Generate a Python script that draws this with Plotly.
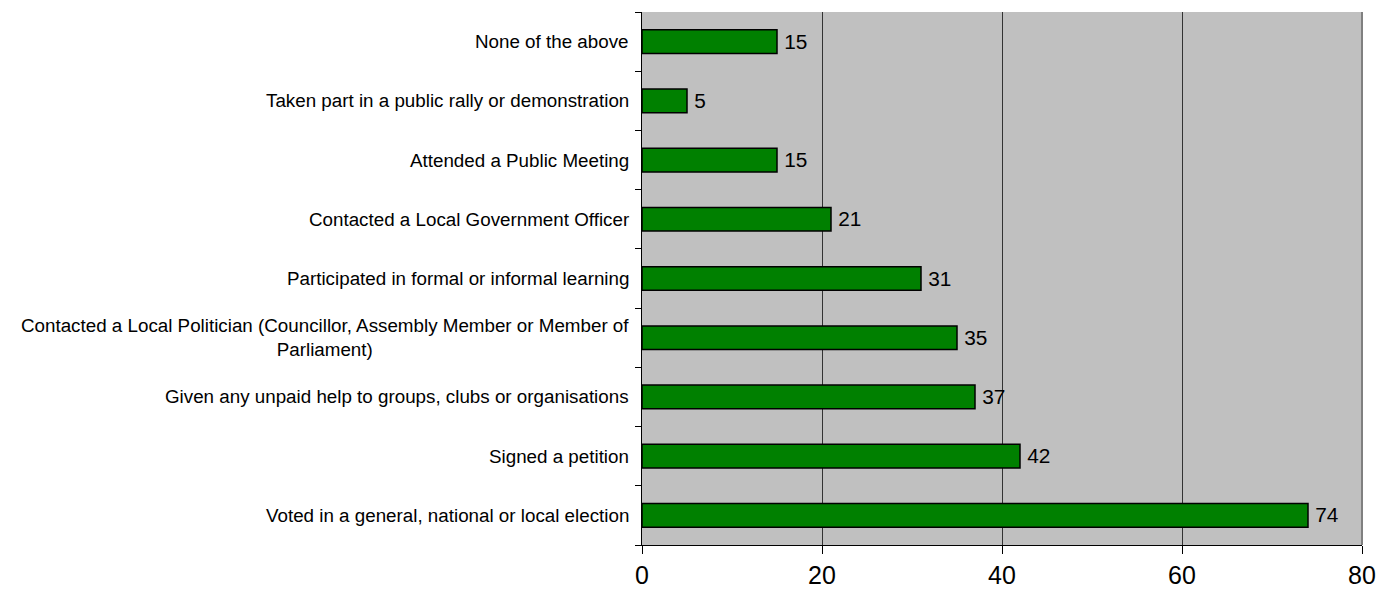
import plotly.graph_objects as go

categories = [
    "Voted in a general, national or local election",
    "Signed a petition",
    "Given any unpaid help to groups, clubs or organisations",
    "Contacted a Local Politician (Councillor, Assembly Member or Member of<br>Parliament)",
    "Participated in formal or informal learning",
    "Contacted a Local Government Officer",
    "Attended a Public Meeting",
    "Taken part in a public rally or demonstration",
    "None of the above",
]
values = [74, 42, 37, 35, 31, 21, 15, 5, 15]
x_ticks = [0, 20, 40, 60, 80]

FONT = "Liberation Sans, Arial, sans-serif"

fig = go.Figure(
    go.Bar(
        y=categories,
        x=values,
        orientation="h",
        width=0.4,
        marker=dict(color="#008000", line=dict(color="#000000", width=1.5)),
        text=["\u2009" + str(v) for v in values],
        textposition="outside",
        textfont=dict(family=FONT, size=22, color="#000000"),
        cliponaxis=False,
    )
)

annotations = [
    dict(
        x=0, xref="paper", y=c, yref="y", text=c, showarrow=False,
        xanchor="right", yanchor="middle", align="center", xshift=-11,
        font=dict(family=FONT, size=18.8, color="#000000"),
    )
    for c in categories
]

fig.update_layout(
    width=1392, height=597,
    margin=dict(l=634, r=38, t=4, b=60),
    paper_bgcolor="#FFFFFF",
    plot_bgcolor="#C0C0C0",
    showlegend=False,
    annotations=annotations,
    shapes=[dict(type="line", xref="paper", yref="paper", x0=1, x1=1, y0=0, y1=1,
                 line=dict(color="#808080", width=2))],
    xaxis=dict(
        range=[0, 80], tickvals=x_ticks, ticktext=[str(t) for t in x_ticks],
        showgrid=True, gridcolor="#333333", gridwidth=1,
        ticks="outside", ticklen=8, tickcolor="#000000",
        showline=True, linecolor="#000000", linewidth=1,
        tickfont=dict(family=FONT, size=25, color="#000000"),
        zeroline=False,
    ),
    yaxis=dict(
        type="category", tickson="boundaries", ticks="outside", ticklen=6,
        tickcolor="#000000", showticklabels=False,
        showline=True, linecolor="#000000", linewidth=1,
        showgrid=False, range=[-0.5, len(categories) - 0.5],
    ),
)

fig.write_html("out.html")
